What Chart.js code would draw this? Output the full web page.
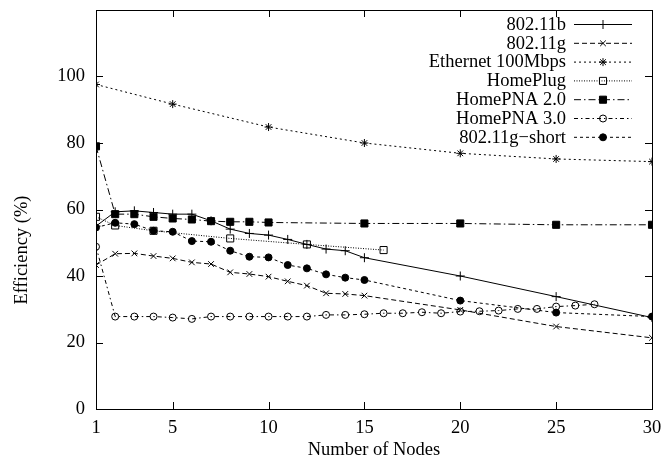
<!DOCTYPE html>
<html><head><meta charset="utf-8">
<script src="https://cdn.jsdelivr.net/npm/chart.js@4"></script>
<style>html,body{margin:0;padding:0;background:#fff}</style>
</head><body>
<canvas id="c" width="663" height="468"></canvas>
<script>
// ---- data ----
const xTicks = [1, 5, 10, 15, 20, 25, 30];
const yTicks = [0, 20, 40, 60, 80, 100];

const nodes18 = [1,2,3,4,5,6,7,8,9,10,11,12,13,14,15,20,25,30];
const nodesEth = [1,5,10,15,20,25,30];
const nodesPlug = [1,2,4,8,12,16];
const nodesPna2 = [1,2,3,4,5,6,7,8,9,10,15,20,25,30];
const nodesPna3 = [1,2,3,4,5,6,7,8,9,10,11,12,13,14,15,16,17,18,19,20,21,22,23,24,25,26,27];

const eff80211b = [55.0,59.3,59.6,59.1,58.6,58.6,56.6,54.1,52.8,52.3,51.0,49.5,48.1,47.6,45.5,40.0,33.8,27.5];
const eff80211g = [43.3,46.7,46.8,46.0,45.3,44.1,43.6,41.1,40.6,39.8,38.4,37.1,34.8,34.6,34.1,29.8,24.8,21.4];
const effEth = [97.6,91.7,84.8,80.0,76.9,75.2,74.4];
const effPlug = [57.8,55.2,53.6,51.3,49.5,47.8];
const effPna2 = [79.0,58.6,58.6,57.8,57.3,57.0,56.5,56.3,56.3,56.1,55.8,55.8,55.4,55.4];
const effPna3 = [48.8,27.8,27.8,27.8,27.5,27.1,27.8,27.8,27.8,27.8,27.8,27.8,28.3,28.3,28.5,28.8,28.8,29.1,28.8,29.3,29.4,29.6,30.1,30.1,30.8,31.1,31.5];
const effShort = [54.6,56.0,55.6,53.6,53.3,50.5,50.3,47.6,45.8,45.6,43.3,42.3,40.5,39.5,38.8,32.6,29.0,27.8];

const seriesLabels = ['802.11b','802.11g','Ethernet 100Mbps','HomePlug','HomePNA 2.0','HomePNA 3.0','802.11g\u2212short'];
const xTitle = 'Number of Nodes';
const yTitle = 'Efficiency (%)';

// ---- build ----
const FONT = 'Liberation Serif';
const FS = 18.5;
const pts = (xs, ys) => xs.map((x, i) => ({x, y: ys[i]}));
const none = 'rgba(0,0,0,0)';
function ds(label, data, dash, style, radius, fill) {
  return {
    label, data, borderColor: '#000', borderWidth: 1, borderDash: dash,
    pointStyle: style, pointRadius: radius, pointBorderColor: '#000',
    pointBackgroundColor: fill, pointBorderWidth: 1, tension: 0, fill: false
  };
}
const datasets = [
  ds(seriesLabels[0], pts(nodes18, eff80211b), [], 'cross', 4.5, none),
  ds(seriesLabels[1], pts(nodes18, eff80211g), [5, 3], 'crossRot', 4, none),
  ds(seriesLabels[2], pts(nodesEth, effEth), [2, 3], 'star', 4, none),
  ds(seriesLabels[3], pts(nodesPlug, effPlug), [1, 1.5], 'rect', 5, none),
  ds(seriesLabels[4], pts(nodesPna2, effPna2), [7, 3, 1.5, 3], 'rect', 5, '#000'),
  ds(seriesLabels[5], pts(nodesPna3, effPna3), [4, 3, 1.5, 3], 'circle', 3.5, none),
  ds(seriesLabels[6], pts(nodes18, effShort), [3, 3], 'circle', 3.5, '#000')
];

const framePlugin = {
  id: 'frame',
  afterDraw(chart) {
    const {ctx, chartArea: a, scales} = chart;
    ctx.save();
    ctx.strokeStyle = '#000';
    ctx.lineWidth = 1;
    ctx.setLineDash([]);
    ctx.strokeRect(a.left + 0.5, a.top + 0.5, a.right - a.left, a.bottom - a.top);
    const T = 7;
    ctx.beginPath();
    scales.x.ticks.forEach(t => {
      const px = Math.round(scales.x.getPixelForValue(t.value)) + 0.5;
      ctx.moveTo(px, a.bottom); ctx.lineTo(px, a.bottom - T);
      ctx.moveTo(px, a.top); ctx.lineTo(px, a.top + T);
    });
    scales.y.ticks.forEach(t => {
      const py = Math.round(scales.y.getPixelForValue(t.value)) + 0.5;
      ctx.moveTo(a.left, py); ctx.lineTo(a.left + T, py);
      ctx.moveTo(a.right, py); ctx.lineTo(a.right - T, py);
    });
    ctx.stroke();

    ctx.font = FS + 'px "' + FONT + '"';
    ctx.fillStyle = '#000';
    // y-axis title
    ctx.save();
    ctx.translate(22, 250);
    ctx.rotate(-Math.PI / 2);
    ctx.textAlign = 'center';
    ctx.textBaseline = 'middle';
    ctx.fillText(yTitle, 0, 0);
    ctx.restore();

    // key (gnuplot style: right-aligned text, then sample)
    ctx.textAlign = 'right';
    ctx.textBaseline = 'middle';
    chart.data.datasets.forEach((d, i) => {
      const y = 24 + i * 18.8;
      ctx.fillStyle = '#000';
      ctx.fillText(d.label, 566, y + 1);
      ctx.beginPath();
      ctx.setLineDash(d.borderDash);
      ctx.moveTo(574, y + 0.5); ctx.lineTo(632, y + 0.5);
      ctx.stroke();
      ctx.setLineDash([]);
      ctx.fillStyle = d.pointBackgroundColor;
      ctx.strokeStyle = '#000';
      ctx.lineWidth = 1;
      Chart.helpers.drawPoint(ctx, {pointStyle: d.pointStyle, radius: d.pointRadius, borderWidth: 1, rotation: 0}, 603, y + 0.5);
    });
    ctx.restore();
  }
};

new Chart(document.getElementById('c'), {
  type: 'line',
  data: {datasets},
  options: {
    responsive: false,
    animation: false,
    events: [],
    layout: {padding: {top: 10, right: 11, left: 0, bottom: 0}},
    plugins: {legend: {display: false}, tooltip: {enabled: false}},
    scales: {
      x: {
        type: 'linear', min: 1, max: 30,
        afterBuildTicks: s => { s.ticks = xTicks.map(v => ({value: v})); },
        afterFit: s => { s.height = 59; s.paddingLeft = 0; s.paddingRight = 0; },
        grid: {display: false, drawTicks: false},
        border: {display: false},
        ticks: {color: '#000', padding: 8, maxRotation: 0, autoSkip: false, font: {family: FONT, size: FS}},
        title: {display: true, text: xTitle, color: '#000', padding: {top: 0, bottom: 7}, font: {family: FONT, size: FS}}
      },
      y: {
        type: 'linear', min: 0, max: 120,
        afterBuildTicks: s => { s.ticks = yTicks.map(v => ({value: v})); },
        afterFit: s => { s.width = 96; s.paddingTop = 0; s.paddingBottom = 0; },
        grid: {display: false, drawTicks: false},
        border: {display: false},
        ticks: {color: '#000', padding: 11, font: {family: FONT, size: FS}},
        title: {display: false}
      }
    }
  },
  plugins: [framePlugin]
});
</script>
</body></html>
